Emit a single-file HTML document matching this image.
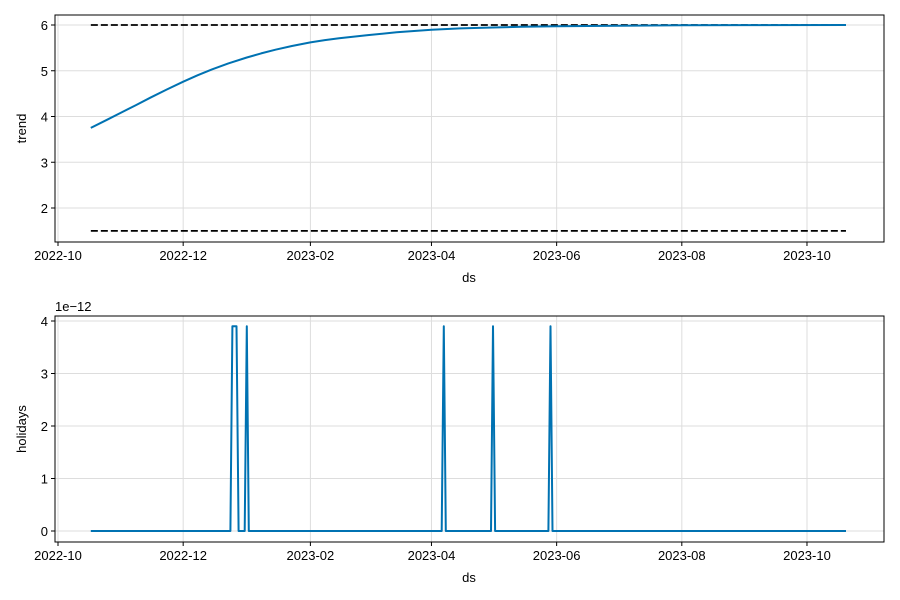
<!DOCTYPE html>
<html><head><meta charset="utf-8"><style>
body{margin:0;background:#fff}
svg{display:block;font-family:"Liberation Sans","DejaVu Sans",sans-serif}
</style></head><body>
<svg id="c" width="900" height="600"></svg>
<script>
const trendDates=['2022-10-17','2022-10-25','2022-11-01','2022-11-08','2022-11-15','2022-11-23','2022-12-01','2022-12-08','2022-12-15','2022-12-23','2023-01-01','2023-01-08','2023-01-15','2023-01-23','2023-02-01','2023-02-08','2023-02-15','2023-03-01','2023-03-15','2023-04-01','2023-04-15','2023-05-01','2023-05-15','2023-06-01','2023-07-01','2023-08-01','2023-09-01','2023-10-20'];
const trendValues=[3.75,3.93,4.09,4.25,4.41,4.59,4.76,4.90,5.03,5.16,5.29,5.38,5.46,5.54,5.62,5.67,5.71,5.78,5.84,5.895,5.925,5.945,5.96,5.972,5.985,5.993,5.997,6.0];
const capValue=6.0;
const floorValue=1.5;
const holidayDates=['2022-10-17','2022-12-24','2022-12-25','2022-12-26','2022-12-27','2022-12-28','2022-12-31','2023-01-01','2023-01-02','2023-04-06','2023-04-07','2023-04-08','2023-04-30','2023-05-01','2023-05-02','2023-05-28','2023-05-29','2023-05-30','2023-10-20'];
const holidayValues=[0,0,3.9,3.9,3.9,0,0,3.9,0,0,3.9,0,0,3.9,0,0,3.9,0,0];
const xTickLabels=['2022-10','2022-12','2023-02','2023-04','2023-06','2023-08','2023-10'];
const trendTicks=[2,3,4,5,6];
const holidayTicks=[0,1,2,3,4];

const NS='http://www.w3.org/2000/svg';
const svg=document.getElementById('c');
const day=86400000, t0=Date.parse('2022-10-01');
function X(d){const dd=typeof d==='string'?(d.length===7?d+'-01':d):d;return 58+(Date.parse(dd)-t0)/day*2.052;}
function el(tag,attrs,parent){const e=document.createElementNS(NS,tag);for(const k in attrs)e.setAttribute(k,attrs[k]);(parent||svg).appendChild(e);return e;}
function txt(s,attrs,parent){const e=el('text',attrs,parent);e.textContent=s;return e;}

function panel(name,top,bot,Y,yticks,ylab){
  const g=el('g',{});
  
  
  xTickLabels.forEach(l=>{const x=X(l);
    const gl=el('line',{x1:x,x2:x,y1:top,y2:bot,stroke:'#ddd','stroke-width':1},g);
    
    el('line',{x1:x,x2:x,y1:bot,y2:bot+4,stroke:'#000'},g);
    const t=txt(l,{x:x,y:bot+18,'font-size':13,'text-anchor':'middle'},g);
    
  });
  yticks.forEach(v=>{const y=Y(v);
    const gl=el('line',{x1:55,x2:884,y1:y,y2:y,stroke:'#ddd','stroke-width':1},g);
    
    el('line',{x1:51,x2:55,y1:y,y2:y,stroke:'#000'},g);
    const t=txt(String(v),{x:48,y:y+5,'font-size':13,'text-anchor':'end'},g);
    
  });
  const fr=el('rect',{x:55,y:top,width:829,height:bot-top,fill:'none',stroke:'#000','stroke-width':1},g);
  
  const xl=txt('ds',{x:469,y:bot+40,'font-size':13,'text-anchor':'middle'},g);
  
  const yl=txt(ylab,{x:0,y:0,'font-size':13,'text-anchor':'middle',transform:`translate(26,${(top+bot)/2}) rotate(-90)`},g);
  
  return g;
}
const Y1=v=>25+(6-v)*45.75;
const g1=panel('trend',15,242,Y1,trendTicks,'trend');
const x0=X(trendDates[0]), x1=X(trendDates[trendDates.length-1]);
const cap=el('line',{x1:x0,x2:x1,y1:Y1(capValue),y2:Y1(capValue),stroke:'#000','stroke-width':1.8,'stroke-dasharray':'7,3'},g1);

const fl=el('line',{x1:x0,x2:x1,y1:Y1(floorValue),y2:Y1(floorValue),stroke:'#000','stroke-width':1.8,'stroke-dasharray':'7,3'},g1);

let pts=trendDates.map((d,i)=>X(d).toFixed(1)+','+Y1(trendValues[i]).toFixed(1));
const tl=el('polyline',{points:pts.join(' '),fill:'none',stroke:'#0072B2','stroke-width':2,'stroke-linejoin':'round'},g1);

const Y2=v=>531-v*52.5;
const g2=panel('holidays',316,542,Y2,holidayTicks,'holidays');
const ex=txt('1e\u221212',{x:55,y:311,'font-size':13},g2);

pts=holidayDates.map((d,i)=>X(d).toFixed(1)+','+Y2(holidayValues[i]).toFixed(1));
const hl=el('polyline',{points:pts.join(' '),fill:'none',stroke:'#0072B2','stroke-width':2,'stroke-linejoin':'round'},g2);

</script>
</body></html>
